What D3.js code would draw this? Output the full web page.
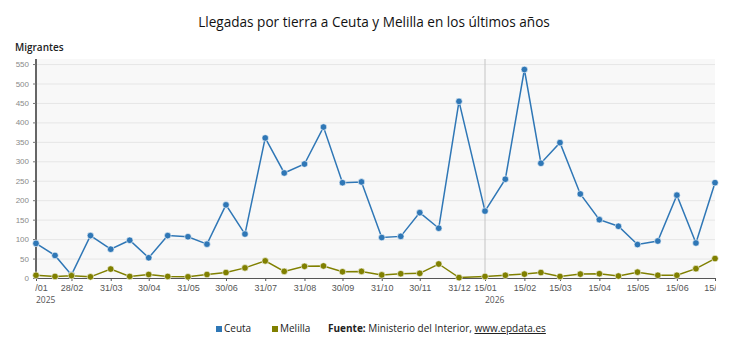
<!DOCTYPE html>
<html lang="es">
<head>
  <meta charset="UTF-8" />
  <title>Llegadas por tierra a Ceuta y Melilla</title>
  <style>
    body {
      margin: 0;
      background: #fff;
      font-family: "Open Sans", "Liberation Sans", sans-serif;
    }
    svg { display: block; }
    .grid line { stroke: #e6e6e6; }
    .yaxis text { fill: #8a8a8a; font-size: 8px; }
    .xaxis text { fill: #555; font-size: 9px; }
  </style>
  <script src="https://cdn.jsdelivr.net/npm/d3@7"></script>
</head>
<body>
  <div id="chart"></div>

  <script>
    // fechas de cada punto (quincenal)
    const dates = [
      '2025-01-31', '2025-02-15', '2025-02-28', '2025-03-15', '2025-03-31', '2025-04-15',
      '2025-04-30', '2025-05-15', '2025-05-31', '2025-06-15', '2025-06-30', '2025-07-15',
      '2025-07-31', '2025-08-15', '2025-08-31', '2025-09-15', '2025-09-30', '2025-10-15',
      '2025-10-31', '2025-11-15', '2025-11-30', '2025-12-15', '2025-12-31',
      '2026-01-15', '2026-01-31', '2026-02-15', '2026-02-28', '2026-03-15', '2026-03-31',
      '2026-04-15', '2026-04-30', '2026-05-15', '2026-05-31', '2026-06-15', '2026-06-30',
      '2026-07-15'
    ];
    const ceuta = [89, 58, 8, 109, 74, 97, 52, 109, 106, 87, 188, 113, 360, 270, 293, 388, 245, 247,
                   104, 107, 168, 128, 454, 172, 254, 536, 295, 348, 216, 150, 133, 86, 95, 213, 90, 245];
    const melilla = [7, 4, 6, 3, 23, 4, 9, 4, 3, 9, 14, 26, 44, 17, 30, 31, 16, 17,
                     8, 11, 12, 36, 1, 4, 7, 10, 14, 4, 10, 11, 5, 15, 7, 7, 24, 50];

    const xTicks = [
      '2025-01-31', '2025-02-28', '2025-03-31', '2025-04-30', '2025-05-31', '2025-06-30',
      '2025-07-31', '2025-08-31', '2025-09-30', '2025-10-31', '2025-11-30', '2025-12-31',
      '2026-01-15', '2026-02-15', '2026-03-15', '2026-04-15', '2026-05-15', '2026-06-15', '2026-07-15'
    ];
    const yearLabels = [['2025-01-31', '2025'], ['2026-01-15', '2026']];
    const yTicks = [0, 50, 100, 150, 200, 250, 300, 350, 400, 450, 500, 550];

    const width = 750, height = 353;
    const plotL = 36, plotR = 715, plotT = 59, plotB = 278;
    const parse = d3.timeParse('%Y-%m-%d');
    const fmt = d3.timeFormat('%d/%m');

    const svg = d3.select('#chart').append('svg')
      .attr('width', width)
      .attr('height', height);

    // escala temporal con salto en el cambio de año
    const x = d3.scaleTime()
      .domain([parse('2025-01-31'), parse('2025-12-31'), parse('2026-01-15'), parse('2026-07-15')])
      .range([plotL, 459, 485, plotR]);
    const y = d3.scaleLinear().domain([0, 563]).range([plotB, plotT]);

    svg.append('text')
      .attr('x', 374).attr('y', 27)
      .attr('text-anchor', 'middle')
      .attr('font-size', 13.6)
      .attr('font-weight', 500)
      .attr('fill', '#111')
      .text('Llegadas por tierra a Ceuta y Melilla en los últimos años');

    svg.append('text')
      .attr('x', 15).attr('y', 51)
      .attr('font-size', 10)
      .attr('font-weight', 600)
      .attr('fill', '#222')
      .text('Migrantes');

    svg.append('rect')
      .attr('x', plotL).attr('y', plotT)
      .attr('width', plotR - plotL).attr('height', plotB - plotT)
      .attr('fill', '#f8f8f8');

    svg.append('g')
      .attr('class', 'grid')
      .attr('transform', `translate(${plotL},0)`)
      .call(d3.axisLeft(y).tickValues(yTicks.slice(1)).tickSize(-(plotR - plotL)).tickFormat(''))
      .call(g => g.select('.domain').remove());

    // linea vertical en el cambio de año
    svg.append('line')
      .attr('x1', x(parse('2026-01-15'))).attr('x2', x(parse('2026-01-15')))
      .attr('y1', plotT).attr('y2', plotB)
      .attr('stroke', '#c4c4c4');

    svg.append('g')
      .attr('class', 'yaxis')
      .attr('transform', `translate(${plotL},0)`)
      .call(d3.axisLeft(y).tickValues(yTicks).tickSize(3).tickPadding(4))
      .call(g => g.select('.domain').attr('stroke', '#666').attr('stroke-width', 2)
        .attr('d', `M0,${plotT}V${plotB}`))
      .call(g => g.selectAll('.tick line').attr('stroke', '#777'));

    svg.append('clipPath').attr('id', 'xclip')
      .append('rect').attr('x', plotL - 1).attr('y', 0).attr('width', plotR - plotL + 2).attr('height', 30);

    const xAxis = svg.append('g')
      .attr('class', 'xaxis')
      .attr('transform', `translate(0,${plotB})`)
      .call(d3.axisBottom(x).tickValues(xTicks.map(parse)).tickFormat(fmt).tickSize(3).tickPadding(4))
      .call(g => g.select('.domain').attr('stroke', '#555').attr('stroke-width', 2)
        .attr('d', `M${plotL},0H${plotR}`))
      .call(g => g.selectAll('.tick line').attr('stroke', '#555'));

    // recorte de etiquetas en los bordes
    xAxis.attr('clip-path', 'url(#xclip)');

    svg.append('g')
      .selectAll('text')
      .data(yearLabels)
      .join('text')
      .attr('x', d => x(parse(d[0])))
      .attr('y', 303)
      .attr('font-size', 8.5)
      .attr('fill', '#555')
      .text(d => d[1]);

    const series = [
      { name: 'Ceuta', values: ceuta, color: '#2f77b6' },
      { name: 'Melilla', values: melilla, color: '#808000' }
    ];

    const line = d3.line()
      .x((d, i) => x(parse(dates[i])))
      .y(d => y(d));

    series.forEach(s => {
      svg.append('path')
        .datum(s.values)
        .attr('fill', 'none')
        .attr('stroke', s.color)
        .attr('stroke-width', 1.5)
        .attr('d', line);
      svg.append('g')
        .selectAll('circle')
        .data(s.values)
        .join('circle')
        .attr('cx', (d, i) => x(parse(dates[i])))
        .attr('cy', d => y(d))
        .attr('r', 3.3)
        .attr('fill', s.color)
        .attr('stroke', '#fff')
        .attr('stroke-width', 0.6);
    });

    // leyenda y fuente
    const legend = svg.append('g').attr('font-size', 10).attr('fill', '#222');
    const legendX = [216, 272];
    series.forEach((s, i) => {
      legend.append('rect')
        .attr('x', legendX[i]).attr('y', 326)
        .attr('width', 6).attr('height', 6)
        .attr('fill', s.color);
      legend.append('text')
        .attr('x', legendX[i] + 8).attr('y', 332)
        .text(s.name);
    });
    const src = legend.append('text').attr('x', 328).attr('y', 332);
    src.append('tspan').attr('font-weight', 'bold').text('Fuente:');
    src.append('tspan').text(' Ministerio del Interior, ');
    src.append('tspan').attr('text-decoration', 'underline').text('www.epdata.es');
  </script>
</body>
</html>
